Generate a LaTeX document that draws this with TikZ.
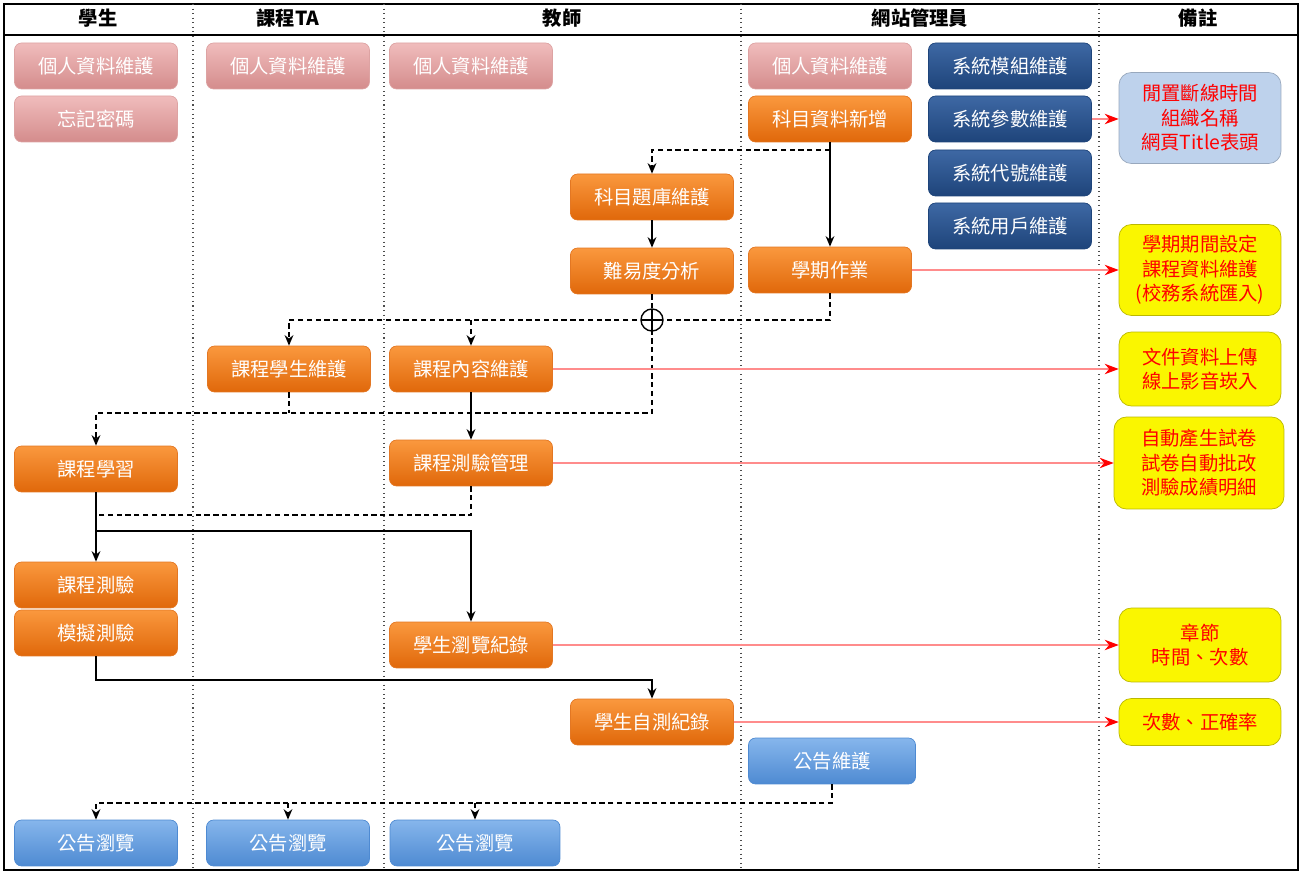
\documentclass[tikz,border=0pt]{standalone}
\usepackage{fontspec}
\setmainfont{Noto Sans CJK TC}
\usetikzlibrary{arrows.meta,calc}

\definecolor{pinkTop}{RGB}{240,188,188}
\definecolor{pinkBot}{RGB}{212,140,140}
\definecolor{orTop}{RGB}{250,152,62}
\definecolor{orBot}{RGB}{224,104,10}
\definecolor{navyTop}{RGB}{62,104,164}
\definecolor{navyBot}{RGB}{30,68,122}
\definecolor{skyTop}{RGB}{134,182,236}
\definecolor{skyBot}{RGB}{78,138,210}
\definecolor{noteBlue}{RGB}{190,210,236}
\definecolor{noteYel}{RGB}{250,246,0}

\begin{document}
\begin{tikzpicture}[x=0.02cm, y=-0.02cm,
    lane/.style={font=\fontsize{11}{13}\selectfont\bfseries},
    lanesep/.style={draw=black!70, dotted, line width=0.6pt},
    box/.style={rectangle, rounded corners=4pt, minimum width=3.26cm, minimum height=0.92cm,
        inner sep=0pt, text=white, font=\fontsize{11}{13}\selectfont},
    pinkbox/.style={box, top color=pinkTop, bottom color=pinkBot, draw=pinkBot!80!white},
    orbox/.style={box, top color=orTop, bottom color=orBot, draw=orBot!90!white},
    navybox/.style={box, top color=navyTop, bottom color=navyBot, draw=navyBot},
    skybox/.style={box, top color=skyTop, bottom color=skyBot, draw=skyBot},
    notebox/.style={rectangle, rounded corners=7pt, minimum width=3.24cm, inner sep=0pt,
        align=center, text=red, font=\fontsize{11}{14}\selectfont},
    yelbox/.style={notebox, fill=noteYel, draw=noteYel!75!black},
    flow/.style={draw=black, line width=0.8pt, -{Stealth[length=6pt,width=5pt]}},
    dline/.style={draw=black, line width=0.8pt, dash pattern=on 3pt off 2pt},
    dflow/.style={flow, dash pattern=on 3pt off 2pt},
    redarr/.style={draw=red!45, line width=0.6pt, -{Stealth[length=8pt,width=6pt,color=red]}},
    crossing/.style={circle, draw, line width=0.8pt, minimum size=0.44cm, inner sep=0pt,
        fill=white, path picture={\draw[line width=0.8pt]
            (path picture bounding box.north) -- (path picture bounding box.south)
            (path picture bounding box.west) -- (path picture bounding box.east);}}]
\useasboundingbox (0,0) rectangle (1302,874);

% lanes
\draw[line width=1.2pt] (4,4) rectangle (1298,870);
\draw[line width=1pt] (4,35) -- (1298,35);
\foreach \x in {193,384,741,1099}
    \draw[lanesep] (\x,4) -- (\x,870);
\node[lane] (hStu) at (98,18) {學生};
\node[lane] (hTA) at (288,18) {課程TA};
\node[lane] (hTea) at (562,18) {教師};
\node[lane] (hAdm) at (920,18) {網站管理員};
\node[lane] (hNote) at (1198,18) {備註};

% student
\node[pinkbox] (stuInfo) at (96,66) {個人資料維護};
\node[pinkbox] (stuPwd) at (96,119) {忘記密碼};
\node[orbox] (stuLearn) at (96,469) {課程學習};
\node[orbox] (stuTest) at (96,585) {課程測驗};
\node[orbox] (mockTest) at (96,633) {模擬測驗};
\node[skybox] (annStu) at (96,843) {公告瀏覽};

% TA
\node[pinkbox] (taInfo) at (288,66) {個人資料維護};
\node[orbox] (taStu) at (289,369) {課程學生維護};
\node[skybox] (annTA) at (288,843) {公告瀏覽};

% teacher
\node[pinkbox] (teaInfo) at (471,66) {個人資料維護};
\node[orbox] (bankMaint) at (652,197) {科目題庫維護};
\node[orbox] (diffAna) at (652,271) {難易度分析};
\node[orbox] (content) at (471,369) {課程內容維護};
\node[orbox] (testMgr) at (471,463) {課程測驗管理};
\node[orbox] (browseLog) at (471,645) {學生瀏覽紀錄};
\node[orbox] (selfLog) at (652,722) {學生自測紀錄};
\node[skybox, minimum width=3.4cm] (annTea) at (475,843) {公告瀏覽};

% admin
\node[pinkbox] (admInfo) at (830,66) {個人資料維護};
\node[orbox] (subjAdd) at (830,119) {科目資料新增};
\node[orbox] (termWork) at (830,270) {學期作業};
\node[navybox] (sysMod) at (1010,66) {系統模組維護};
\node[navybox] (sysPar) at (1010,119) {系統參數維護};
\node[navybox] (sysCode) at (1010,173) {系統代號維護};
\node[navybox] (sysUser) at (1010,226) {系統用戶維護};
\node[skybox, minimum width=3.34cm] (annMaint) at (832,761) {公告維護};

% notes
\node[notebox, fill=noteBlue, draw=noteBlue!80!black, minimum height=1.82cm] (noteSys) at (1200,118) {閒置斷線時間\\組織名稱\\網頁Title表頭};
\node[yelbox, minimum height=1.82cm] (noteTerm) at (1200,270) {學期期間設定\\課程資料維護\\(校務系統匯入)};
\node[yelbox, minimum height=1.48cm] (noteCont) at (1200,369) {文件資料上傳\\線上影音崁入};
\node[yelbox, minimum height=1.84cm, minimum width=3.4cm] (noteTest) at (1199,463) {自動產生試卷\\試卷自動批改\\測驗成績明細};
\node[yelbox, minimum height=1.48cm] (noteLog) at (1200,645) {章節\\時間、次數};
\node[yelbox, minimum height=0.94cm] (noteSelf) at (1200,722) {次數、正確率};

% flows
\coordinate (brBank) at (830,150);
\coordinate (jTerm) at (830,320);
\coordinate (jDiff) at (652,413);
\coordinate (jTest) at (96,515);
\coordinate (jBrowse) at (96,531);
\coordinate (jSelf) at (652,680);
\coordinate (jAnn) at (96,803);

\draw[flow] (subjAdd) -- (termWork);
\draw[dflow] (brBank) -| (bankMaint);
\draw[flow] (bankMaint) -- (diffAna);
\draw[dflow] (termWork) -- (jTerm) -| (taStu);
\draw[dflow] (content |- jTerm) -- (content);
\draw[dflow] (diffAna) -- (jDiff) -| (stuLearn);
\draw[dline] (taStu) -- (taStu |- jDiff);
\node[crossing] (cross) at (diffAna |- jTerm) {};
\draw[flow] (content) -- (testMgr);
\draw[dline] (testMgr) |- (jTest);
\draw[flow] (stuLearn) -- (stuTest);
\draw[flow] (jBrowse) -| (browseLog);
\draw[flow] (mockTest) |- (jSelf) -- (selfLog);
\draw[dflow] (annMaint) |- (jAnn) -- (annStu);
\draw[dflow] (annTA |- jAnn) -- (annTA);
\draw[dflow] (annTea |- jAnn) -- (annTea);

% notes links
\foreach \a/\b in {sysPar/noteSys, termWork/noteTerm, content/noteCont,
        testMgr/noteTest, browseLog/noteLog, selfLog/noteSelf}
    \draw[redarr] (\a.east) -- (\a.east -| \b.west);
\end{tikzpicture}
\end{document}
